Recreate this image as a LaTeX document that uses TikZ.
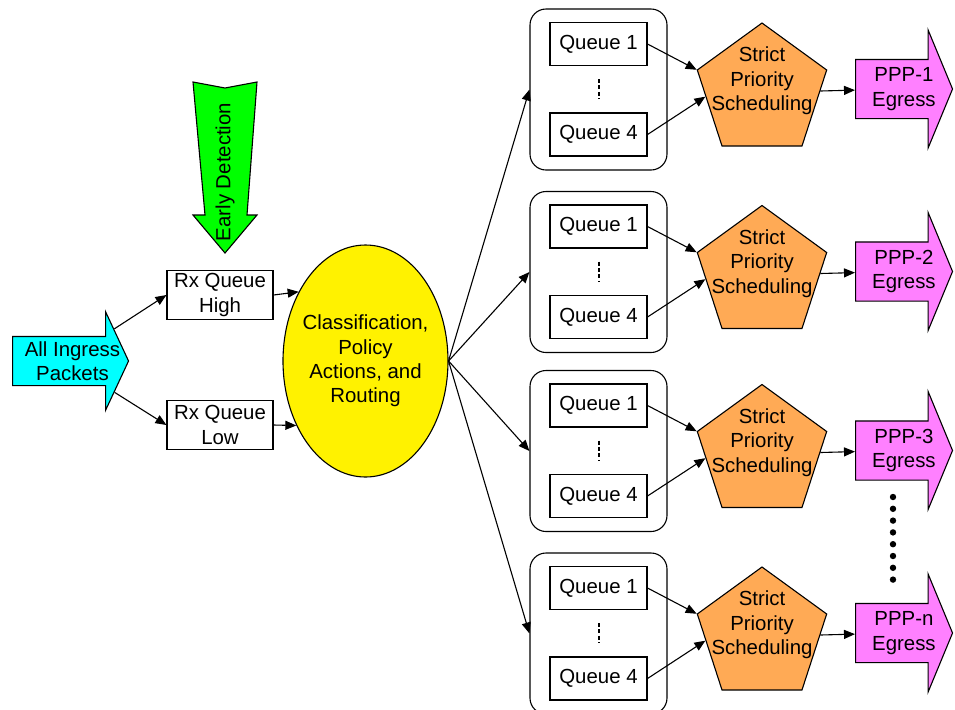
\documentclass[tikz,border=0pt]{standalone}
\usepackage{fontspec}
\setmainfont{Liberation Sans}
\usetikzlibrary{arrows.meta,positioning,shapes.geometric,shapes.arrows,calc}
\definecolor{aqua}{HTML}{00FFFF}
\definecolor{lime}{HTML}{00FF00}
\definecolor{amber}{HTML}{FFAA55}
\definecolor{orchid}{HTML}{FF80FF}

\begin{document}
\begin{tikzpicture}[x=0.5pt, y=-0.5pt, line width=0.55pt, every node/.style={font=\fontsize{10.2}{12.2}\selectfont, align=center},
  rx/.style={draw, minimum width=53pt, minimum height=24.5pt, inner sep=0pt},
  grp/.style={draw, rounded corners=8pt, minimum width=68.5pt, minimum height=80.5pt},
  queue/.style={draw, minimum width=48.5pt, minimum height=21.5pt, inner sep=0pt},
  sched/.style={regular polygon, regular polygon sides=5, draw, fill=amber, minimum size=68pt, inner sep=0pt, label={[yshift=5pt]center:Strict\\Priority\\Scheduling}},
  egress/.style={single arrow, draw, fill=orchid, anchor=tail, inner xsep=0pt, inner ysep=14.5pt, single arrow head extend=14.75pt, single arrow tip angle=135, minimum height=48.5pt},
  arr/.style={-{Triangle[length=5.5pt, width=4.5pt]}},
  qdots/.style={line width=1pt, dash pattern=on 2pt off 1.2pt},
  bigdots/.style={line width=3.2pt, line cap=round, dash pattern=on 0pt off 5.9pt}]
\useasboundingbox (0,0) rectangle (955,709);
\node[single arrow, draw, fill=aqua, anchor=tail, inner xsep=0pt, inner ysep=12pt, single arrow head extend=12.25pt, single arrow tip angle=130, minimum height=58pt, label={[xshift=3.8pt]center:All Ingress\\Packets}] (ingress) at (12,361) {};
\node[rx] (rxhigh) at (220,295) {Rx Queue\\High};
\node[rx] (rxlow) at (220,425) {Rx Queue\\Low};
\draw[fill=lime] (193,82) -- (225,88) -- (257,82) -- (247,215) -- (257,215) -- (225,253) -- (193,215) -- (205,215) -- cycle;
\node[rotate=90] (early) at (225,172) {Early Detection};
\node[ellipse, draw, fill=yellow, minimum width=82.5pt, minimum height=116pt, inner sep=0pt, label={center:Classification,\\Policy\\Actions, and\\Routing}] (classify) at (365.5,361) {};
\draw[arr] (ingress) -- (rxhigh.west);
\draw[arr] (ingress) -- (rxlow.west);
\draw[arr] (rxhigh.east) -- (classify.134);
\draw[arr] (rxlow.east) -- (classify.-137);

\node[grp] (grp1) at (598.5,89.5) {};
\node[queue] (q11) at (598.5,44) {Queue 1};
\node[queue] (q14) at (598.5,134.5) {Queue 4};
\node[sched] (sched1) at (762,91) {};
\node[egress, label={[xshift=3pt]center:PPP-1\\Egress}] (ppp1) at (855,89) {};

\node[grp] (grp2) at (598.5,272) {};
\node[queue] (q21) at (598.5,226.5) {Queue 1};
\node[queue] (q24) at (598.5,317) {Queue 4};
\node[sched] (sched2) at (762,273.5) {};
\node[egress, label={[xshift=3pt]center:PPP-2\\Egress}] (ppp2) at (855,271.5) {};

\node[grp] (grp3) at (598.5,451) {};
\node[queue] (q31) at (598.5,405.5) {Queue 1};
\node[queue] (q34) at (598.5,496) {Queue 4};
\node[sched] (sched3) at (762,452.5) {};
\node[egress, label={[xshift=3pt]center:PPP-3\\Egress}] (ppp3) at (855,450.5) {};

\node[grp] (grp4) at (598.5,633.5) {};
\node[queue] (q41) at (598.5,588) {Queue 1};
\node[queue] (q44) at (598.5,678.5) {Queue 4};
\node[sched] (sched4) at (762,635) {};
\node[egress, label={[xshift=3pt]center:PPP-n\\Egress}] (pppn) at (855,633) {};

\draw[arr] (classify.east) -- (grp1.west);
\draw[arr] (classify.east) -- (grp2.west);
\draw[arr] (classify.east) -- (grp3.west);
\draw[arr] (classify.east) -- (grp4.west);
\draw[qdots] ([yshift=-6.5pt]q11.south) -- ([yshift=6.5pt]q14.north);
\draw[qdots] ([yshift=-6.5pt]q21.south) -- ([yshift=6.5pt]q24.north);
\draw[qdots] ([yshift=-6.5pt]q31.south) -- ([yshift=6.5pt]q34.north);
\draw[qdots] ([yshift=-6.5pt]q41.south) -- ([yshift=6.5pt]q44.north);
\draw[arr] (q11.east) -- (sched1.corner 2);
\draw[arr] (q14.east) -- ($(sched1.corner 2)!0.35!(sched1.corner 3)$);
\draw[arr] (q21.east) -- (sched2.corner 2);
\draw[arr] (q24.east) -- ($(sched2.corner 2)!0.35!(sched2.corner 3)$);
\draw[arr] (q31.east) -- (sched3.corner 2);
\draw[arr] (q34.east) -- ($(sched3.corner 2)!0.35!(sched3.corner 3)$);
\draw[arr] (q41.east) -- (sched4.corner 2);
\draw[arr] (q44.east) -- ($(sched4.corner 2)!0.35!(sched4.corner 3)$);
\draw[arr] (sched1.east) -- (ppp1);
\draw[arr] (sched2.east) -- (ppp2);
\draw[arr] (sched3.east) -- (ppp3);
\draw[arr] (sched4.east) -- (pppn);
\draw[bigdots] (893,497) -- (893,580);
\end{tikzpicture}
\end{document}
